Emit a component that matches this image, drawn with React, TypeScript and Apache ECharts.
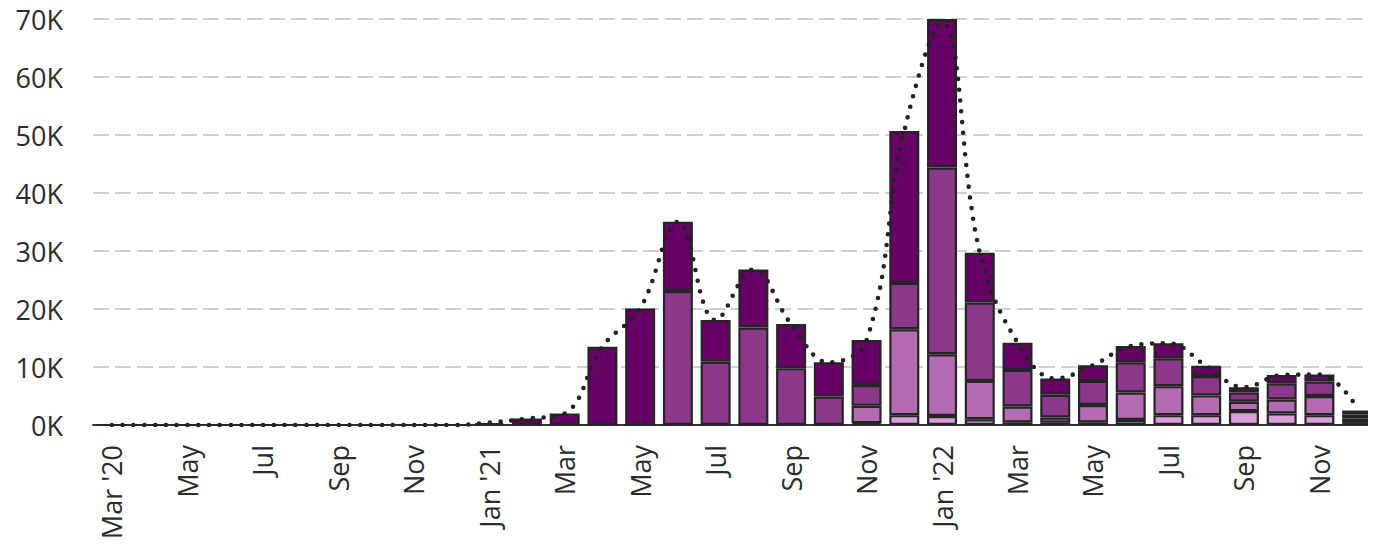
import React, { useEffect, useRef } from "react";
import * as echarts from "echarts";

const months: string[] = [
  "Mar '20", "Apr", "May", "Jun", "Jul", "Aug", "Sep", "Oct", "Nov", "Dec",
  "Jan '21", "Feb", "Mar", "Apr", "May", "Jun", "Jul", "Aug", "Sep", "Oct", "Nov", "Dec",
  "Jan '22", "Feb", "Mar", "Apr", "May", "Jun", "Jul", "Aug", "Sep", "Oct", "Nov", "Dec",
];

// values in thousands, stacked bottom -> top
const seriesA: number[] = [
  0, 0, 0, 0, 0, 0, 0, 0, 0, 0,
  0, 0, 0, 0, 0, 0, 0, 0, 0, 0, 0.3, 1.7,
  1.55, 1.0, 0.45, 0.4, 0.45, 0.85, 1.7, 1.7, 2.4, 2.0, 1.7, 0.5,
];
const seriesB: number[] = [
  0, 0, 0, 0, 0, 0, 0, 0, 0, 0,
  0, 0, 0, 0, 0, 0, 0, 0, 0, 0, 3.0, 14.8,
  10.65, 6.6, 2.75, 0.9, 3.0, 4.75, 5.0, 3.4, 1.6, 2.4, 3.3, 0.65,
];
const seriesC: number[] = [
  0, 0, 0, 0, 0, 0, 0, 0, 0, 0,
  0, 0, 0, 0, 0, 23.1, 10.9, 16.8, 9.8, 4.9, 3.6, 8.0,
  32.2, 13.5, 6.3, 3.9, 4.15, 5.2, 4.8, 3.35, 1.6, 2.8, 2.5, 0.65,
];
const seriesD: number[] = [
  0, 0, 0, 0, 0, 0, 0, 0, 0, 0,
  0.3, 1.1, 2.0, 13.5, 20.1, 11.95, 7.2, 10.0, 7.6, 5.9, 7.75, 26.2,
  25.6, 8.6, 4.7, 2.8, 2.7, 2.8, 2.6, 1.75, 0.9, 1.4, 1.2, 0.7,
];
const trend: number[] = [
  0, 0, 0, 0, 0, 0, 0, 0, 0, 0,
  0.4, 1.1, 2.0, 13.5, 20.1, 35.0, 18.1, 26.8, 17.4, 10.8, 14.6, 50.7,
  69.3, 29.7, 14.2, 8.0, 10.3, 13.6, 14.1, 10.2, 6.5, 8.6, 8.7, 3.0,
];
const yTicks: number[] = [0, 10, 20, 30, 40, 50, 60, 70];

const colors = ["#d9a0d9", "#b36bb3", "#8b388b", "#660066"];
const FONT = "Open Sans";

export default function App() {
  const ref = useRef<HTMLDivElement>(null);
  useEffect(() => {
    if (!ref.current) return;
    const chart = echarts.init(ref.current, undefined, { renderer: "svg" });
    const k = (arr: number[]) => arr.map((v) => Math.round(v * 1000));
    const barSeries = [seriesA, seriesB, seriesC, seriesD].map((arr, i) => ({
      type: "bar" as const,
      stack: "total",
      data: k(arr),
      barWidth: 30,
      itemStyle: { color: colors[i], borderColor: "#252525", borderWidth: 2.2 },
      z: 2,
    }));
    chart.setOption({
      animation: false,
      grid: { left: 93, top: 19, width: 1292, height: 406, containLabel: false },
      xAxis: {
        type: "category",
        data: months,
        boundaryGap: true,
        axisLine: { show: true, lineStyle: { color: "#333", width: 1.8 } },
        axisTick: { show: false },
        axisLabel: {
          interval: 1,
          rotate: 90,
          margin: 20,
          color: "#2b2b2b",
          fontFamily: FONT,
          fontSize: 27,
        },
        splitLine: { show: false },
      },
      yAxis: {
        type: "value",
        min: yTicks[0] * 1000,
        max: yTicks[yTicks.length - 1] * 1000,
        interval: 10000,
        axisLine: { show: false },
        axisTick: { show: false },
        axisLabel: {
          margin: 30,
          color: "#2b2b2b",
          fontFamily: FONT,
          fontSize: 27,
          formatter: (v: number) => `${Math.round(v / 1000)}K`,
        },
        splitLine: {
          show: true,
          lineStyle: { color: "#c0c0c0", width: 1.6, type: [16, 6] },
        },
      },
      series: [
        ...barSeries,
        {
          type: "line",
          data: k(trend),
          smooth: 0.4,
          symbol: "none",
          z: 5,
          lineStyle: { color: "#222", width: 4.6, type: [0, 10.8], cap: "round" },
        },
      ],
    });
    return () => chart.dispose();
  }, []);
  return <div ref={ref} style={{ width: 1376, height: 547, marginLeft: -8, marginTop: -8 }} />;
}
